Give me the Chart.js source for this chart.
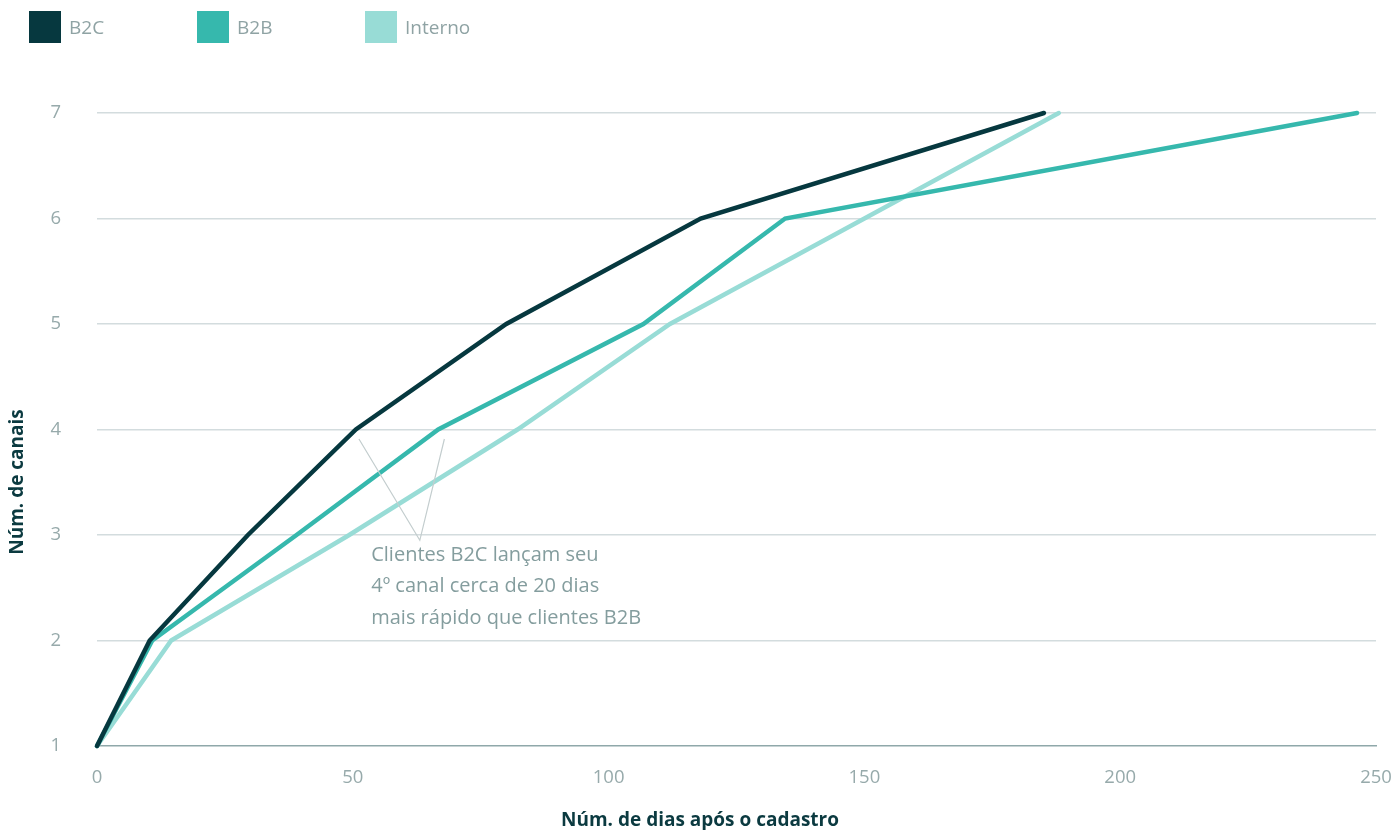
<!DOCTYPE html>
<html lang="pt">
<head>
<meta charset="utf-8">
<title>Canais por dias após o cadastro</title>
<script src="https://cdn.jsdelivr.net/npm/chart.js@4.4.1/dist/chart.umd.min.js"></script>
<style>
    html, body { margin: 0; padding: 0; background: #fff; }
    body { width: 1398px; height: 830px; position: relative; overflow: hidden; font-family: 'Open Sans', sans-serif; }
    #legend { position: absolute; left: 29px; top: 11px; display: flex; }
    .legend-item { width: 168px; display: flex; align-items: center; height: 32px; }
    .legend-box { width: 32px; height: 32px; margin-right: 8px; }
    .legend-label { font-size: 19px; color: #8fa3a4; }
    #chart-wrap { position: absolute; left: 0; top: 0; width: 1398px; height: 830px; }
</style>
</head>
<body>
<div id="chart-wrap"><canvas id="chart"></canvas></div>
<div id="legend"></div>
<script>
// número de canais (eixo y) e dias em que cada grupo chega a esse número
const canais = [1, 2, 3, 4, 5, 6, 7];
const diasB2C = [0, 10.3, 29.5, 50.6, 80, 118, 185.1];
const diasB2B = [0, 10.8, 39, 66.7, 106.8, 134.5, 246.3];
const diasInterno = [0, 14.5, 49.3, 82.2, 112, 150, 188];

const seriesNomes = ['B2C', 'B2B', 'Interno'];
const seriesCores = ['#06383f', '#36b8ad', '#98dcd6'];

const xTicks = [0, 50, 100, 150, 200, 250];
const yTicks = [1, 2, 3, 4, 5, 6, 7];

const tituloX = 'Núm. de dias após o cadastro';
const tituloY = 'Núm. de canais';
const notaTexto = [
    'Clientes B2C lançam seu',
    '4º canal cerca de 20 dias',
    'mais rápido que clientes B2B'
];

const FONT = "'Open Sans', sans-serif";
const tickColor = '#97aaab';
const titleColor = '#0b3a40';

function toPoints(dias) {
    return dias.map((d, i) => ({ x: d, y: canais[i] }));
}

// legenda em HTML
const legendEl = document.getElementById('legend');
seriesNomes.forEach((nome, i) => {
    const item = document.createElement('div');
    item.className = 'legend-item';
    item.innerHTML = '<span class="legend-box" style="background:' + seriesCores[i] + '"></span>' +
        '<span class="legend-label">' + nome + '</span>';
    legendEl.appendChild(item);
});

// títulos dos eixos e anotação
const extrasPlugin = {
    id: 'extras',
    afterDatasetsDraw(chart) {
        const ctx = chart.ctx;
        const xs = chart.scales.x;
        const ys = chart.scales.y;
        ctx.save();

        // linhas da anotação
        ctx.strokeStyle = '#c3cdce';
        ctx.lineWidth = 1.2;
        const apexX = xs.getPixelForValue(63.1);
        const apexY = ys.getPixelForValue(2.95);
        ctx.beginPath();
        ctx.moveTo(xs.getPixelForValue(51.2), ys.getPixelForValue(3.91));
        ctx.lineTo(apexX, apexY);
        ctx.lineTo(xs.getPixelForValue(67.9), ys.getPixelForValue(3.91));
        ctx.stroke();

        // texto da anotação
        ctx.fillStyle = '#849d9e';
        ctx.font = '20px ' + FONT;
        ctx.textAlign = 'left';
        ctx.textBaseline = 'alphabetic';
        const tx = xs.getPixelForValue(53.6);
        const ty = ys.getPixelForValue(2.754);
        notaTexto.forEach((linha, i) => ctx.fillText(linha, tx, ty + i * 31.5));

        // títulos dos eixos
        ctx.fillStyle = titleColor;
        ctx.font = 'bold 19px ' + FONT;
        ctx.textAlign = 'center';
        ctx.textBaseline = 'middle';
        ctx.fillText(tituloX, chart.width / 2 + 1, 821);

        ctx.translate(18, 482);
        ctx.rotate(-Math.PI / 2);
        ctx.fillText(tituloY, 0, 0);
        ctx.restore();
    }
};

const ctx = document.getElementById('chart').getContext('2d');
new Chart(ctx, {
    type: 'line',
    data: {
        datasets: [diasB2C, diasB2B, diasInterno].map((dias, i) => ({
            label: seriesNomes[i],
            data: toPoints(dias),
            borderColor: seriesCores[i],
            backgroundColor: seriesCores[i],
            borderWidth: 4.5,
            pointRadius: 0,
            tension: 0,
            fill: false,
            clip: false,
            borderCapStyle: 'round',
            borderJoinStyle: 'miter'
        }))
    },
    options: {
        responsive: true,
        maintainAspectRatio: false,
        animation: false,
        layout: { padding: { top: 113, right: 22, left: 0, bottom: 0 } },
        plugins: {
            legend: { display: false },
            tooltip: { enabled: false }
        },
        scales: {
            x: {
                type: 'linear',
                min: 0,
                max: 250,
                afterFit: (scale) => {
                    scale.height = 84;
                    scale.paddingLeft = 0;
                    scale.paddingRight = 0;
                },
                afterBuildTicks: (scale) => { scale.ticks = xTicks.map(v => ({ value: v })); },
                grid: { display: false, drawTicks: false },
                border: { display: true, color: '#8fa8aa', width: 1.5 },
                ticks: {
                    color: tickColor,
                    font: { family: FONT, size: 18.5 },
                    padding: 21,
                    maxRotation: 0
                }
            },
            y: {
                type: 'linear',
                min: 1,
                max: 7,
                afterFit: (scale) => {
                    scale.width = 97;
                    scale.paddingTop = 0;
                    scale.paddingBottom = 0;
                },
                afterBuildTicks: (scale) => { scale.ticks = yTicks.map(v => ({ value: v })); },
                grid: {
                    color: (c) => c.tick && c.tick.value === 1 ? 'rgba(0,0,0,0)' : '#d3dcde',
                    lineWidth: 1.5,
                    drawTicks: false
                },
                border: { display: false },
                ticks: {
                    color: tickColor,
                    font: { family: FONT, size: 18.5 },
                    padding: 36
                }
            }
        }
    },
    plugins: [extrasPlugin]
});
</script>
</body>
</html>
